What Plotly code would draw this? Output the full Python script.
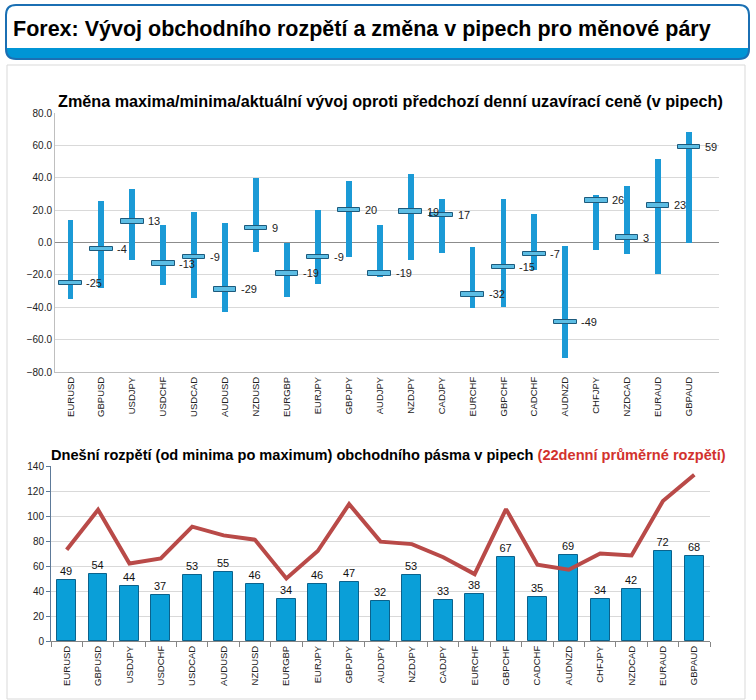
import plotly.graph_objects as go

W, H = 756, 700

pairs = ["EURUSD", "GBPUSD", "USDJPY", "USDCHF", "USDCAD", "AUDUSD", "NZDUSD",
         "EURGBP", "EURJPY", "GBPJPY", "AUDJPY", "NZDJPY", "CADJPY", "EURCHF",
         "GBPCHF", "CADCHF", "AUDNZD", "CHFJPY", "NZDCAD", "EURAUD", "GBPAUD"]

change_low = [-34.6, -27.8, -10.5, -26.0, -34.0, -42.7, -5.8, -33.4, -25.8, -8.9, -21.6,
              -11.1, -6.4, -40.2, -39.8, -16.9, -71.1, -4.5, -7.0, -19.4, 0.0]
change_high = [14.0, 25.8, 33.2, 10.9, 19.0, 12.2, 40.0, 0.0, 20.2, 37.7, 10.9,
               42.5, 27.0, -2.7, 27.0, 17.7, -2.1, 29.5, 35.0, 51.8, 68.0]
change_current = [-25, -4, 13, -13, -9, -29, 9, -19, -9, 20, -19,
                  19, 17, -32, -15, -7, -49, 26, 3, 23, 59]

range_today = [49, 54, 44, 37, 53, 55, 46, 34, 46, 47, 32, 53, 33, 38, 67, 35, 69, 34, 42, 72, 68]
range_avg22 = [73, 105, 62, 66, 91.5, 84.5, 81, 50, 72, 109.5, 79.5, 77.5, 67, 53.5,
               105.5, 61, 57, 70, 68.5, 112, 133]

top_ticks = [-80, -60, -40, -20, 0, 20, 40, 60, 80]
bottom_ticks = [0, 20, 40, 60, 80, 100, 120, 140]


def px(x):
    return x / W


def py(y):
    return 1 - y / H


def rrect_path(x0, y0, x1, y1, r, top=True, bottom=True):
    rt = r if top else 0
    rb = r if bottom else 0
    pts = []
    pts.append(f"M {px(x0 + rt)},{py(y0)}")
    pts.append(f"L {px(x1 - rt)},{py(y0)}")
    if rt:
        pts.append(f"Q {px(x1)},{py(y0)} {px(x1)},{py(y0 + rt)}")
    pts.append(f"L {px(x1)},{py(y1 - rb)}")
    if rb:
        pts.append(f"Q {px(x1)},{py(y1)} {px(x1 - rb)},{py(y1)}")
    pts.append(f"L {px(x0 + rb)},{py(y1)}")
    if rb:
        pts.append(f"Q {px(x0)},{py(y1)} {px(x0)},{py(y1 - rb)}")
    pts.append(f"L {px(x0)},{py(y0 + rt)}")
    if rt:
        pts.append(f"Q {px(x0)},{py(y0)} {px(x0 + rt)},{py(y0)}")
    pts.append("Z")
    return " ".join(pts)


fig = go.Figure()

# ---- top chart: range bars + current marker
fig.add_trace(go.Bar(
    x=pairs, y=[h - l for h, l in zip(change_high, change_low)], base=change_low,
    width=0.19, marker=dict(color="#1b9ad6", line=dict(width=0)),
    xaxis="x", yaxis="y", showlegend=False, hoverinfo="skip"))
fig.add_trace(go.Bar(
    x=pairs, y=[2.8] * len(pairs), base=[c - 1.4 for c in change_current],
    width=0.73, marker=dict(color="#5cbde4", line=dict(color="#1d5a7c", width=1)),
    xaxis="x", yaxis="y", showlegend=False, hoverinfo="skip"))

# ---- bottom chart: today's range bars + 22-day average line
fig.add_trace(go.Bar(
    x=pairs, y=range_today, width=0.6,
    marker=dict(color="#0a9fd8", line=dict(color="#0b628c", width=1)),
    text=[str(v) for v in range_today], textposition="outside",
    textfont=dict(family="Liberation Sans, Arial", size=11, color="#111"),
    cliponaxis=False, xaxis="x2", yaxis="y2", showlegend=False, hoverinfo="skip"))
fig.add_trace(go.Scatter(
    x=pairs, y=range_avg22, mode="lines",
    line=dict(color="#b94a48", width=4),
    xaxis="x2", yaxis="y2", showlegend=False, hoverinfo="skip"))

annotations = []
for p, c in zip(pairs, change_current):
    annotations.append(dict(
        x=p, y=c, xref="x", yref="y", text=str(c), showarrow=False,
        xanchor="left", yanchor="middle", xshift=14,
        font=dict(family="Liberation Sans, Arial", size=11, color="#222")))

annotations.append(dict(
    x=px(11), y=py(29), xref="paper", yref="paper", xanchor="left", yanchor="middle",
    text="<b>Forex: Vývoj obchodního rozpětí a změna v pipech pro měnové páry</b>",
    showarrow=False,
    font=dict(family="Liberation Sans, Arial", size=21.5, color="#000")))
annotations.append(dict(
    x=px(390), y=py(101), xref="paper", yref="paper", xanchor="center", yanchor="middle",
    text="<b>Změna maxima/minima/aktuální vývoj oproti předchozí denní uzavírací ceně (v pipech)</b>",
    showarrow=False,
    font=dict(family="Liberation Sans, Arial", size=16.2, color="#000")))
annotations.append(dict(
    x=px(49), y=py(455), xref="paper", yref="paper", xanchor="left", yanchor="middle",
    text="<b>Dnešní rozpětí (od minima po maximum) obchodního pásma v pipech "
         "<span style='color:#d2322d'>(22denní průměrné rozpětí)</span></b>",
    showarrow=False,
    font=dict(family="Liberation Sans, Arial", size=14.6, color="#000")))

shapes = [
    dict(type="rect", xref="paper", yref="paper", x0=px(7), x1=px(745), y0=py(699), y1=py(65),
         line=dict(color="#d9d9d9", width=1), fillcolor="rgba(0,0,0,0)", layer="below"),
    dict(type="path", xref="paper", yref="paper", path=rrect_path(6, 5, 749, 59, 10),
         fillcolor="#0095d5", line=dict(color="#1b6fb3", width=2), layer="above"),
    dict(type="path", xref="paper", yref="paper", path=rrect_path(7, 6, 748, 48, 9, bottom=False),
         fillcolor="#ffffff", line=dict(width=0), layer="above"),
]

axis_font = dict(family="Liberation Sans, Arial", size=10, color="#222")
tick_font = dict(family="Liberation Sans, Arial", size=9.5, color="#222")

fig.update_layout(
    width=W, height=H,
    margin=dict(l=0, r=0, t=0, b=0, pad=0),
    paper_bgcolor="white", plot_bgcolor="white",
    barmode="overlay", bargap=0,
    annotations=annotations, shapes=shapes,
    xaxis=dict(domain=[px(55), px(719)], anchor="y", type="category", automargin=False,
               tickangle=-90, tickfont=tick_font, showgrid=False,
               showline=True, linecolor="#bfbfbf", ticks="", fixedrange=True),
    yaxis=dict(domain=[py(372), py(113)], anchor="x", range=[-80, 80], automargin=False,
               tickvals=top_ticks, tickformat=".1f", tickfont=axis_font,
               showgrid=True, gridcolor="#d9d9d9", zeroline=True, zerolinecolor="#8c8c8c",
               zerolinewidth=1, showline=True, linecolor="#bfbfbf", ticks="", fixedrange=True),
    xaxis2=dict(domain=[px(51), px(710)], anchor="y2", type="category", automargin=False,
                tickangle=-90, tickfont=tick_font, showgrid=False,
                showline=True, linecolor="#868686", ticks="outside", ticklen=5,
                tickcolor="#868686", tickson="boundaries", fixedrange=True),
    yaxis2=dict(domain=[py(641), py(466)], anchor="x2", range=[0, 140], automargin=False,
                tickvals=bottom_ticks, tickfont=axis_font,
                showgrid=True, gridcolor="#d9d9d9", zeroline=False,
                showline=True, linecolor="#5d7a99", ticks="outside", ticklen=4,
                tickcolor="#5d7a99", fixedrange=True),
)

fig.write_html("out.html", config={"displayModeBar": False},
               post_script="document.body.style.margin='0';document.body.style.overflow='hidden';")
